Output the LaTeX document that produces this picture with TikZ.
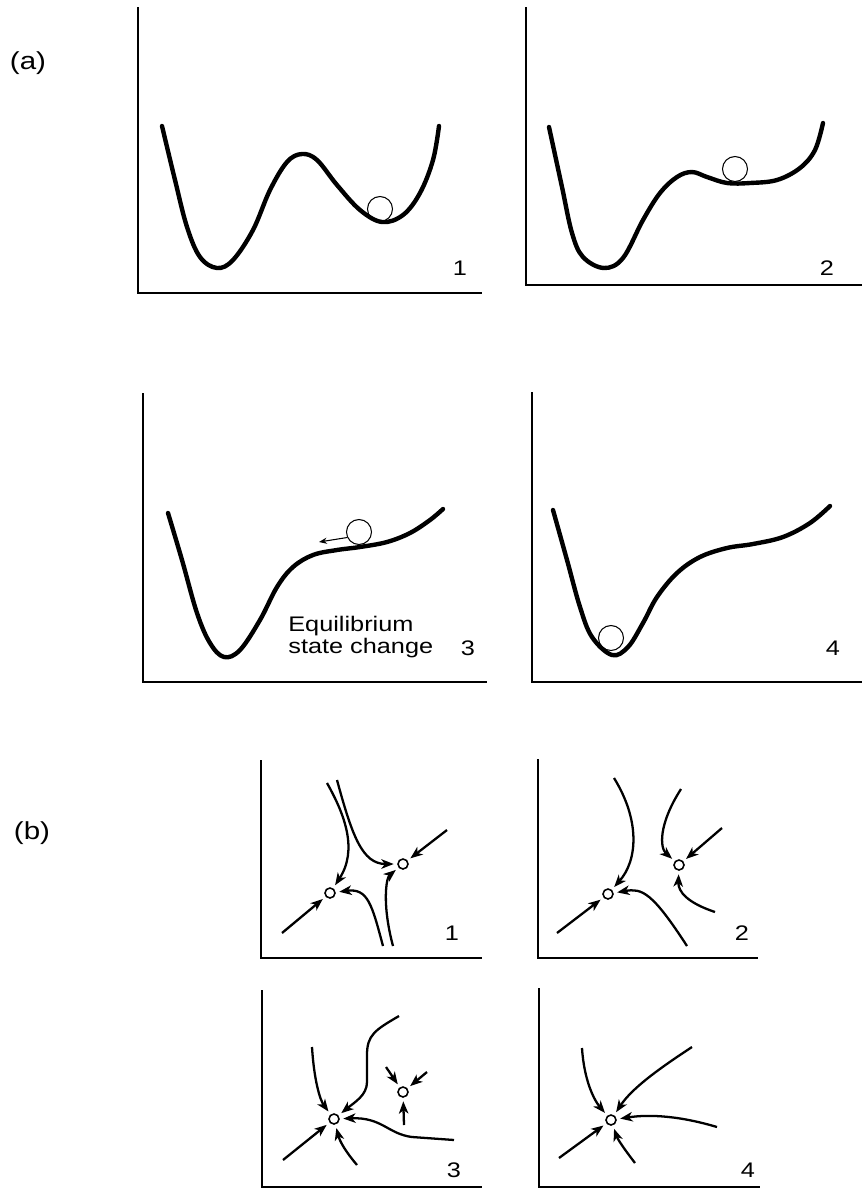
\documentclass[tikz,border=0pt]{standalone}
\usepackage{fontspec}
\setmainfont[FakeStretch=1.2]{Liberation Sans}
\usepackage{tikz}
\usetikzlibrary{arrows.meta}

\begin{document}
\begin{tikzpicture}[
x=0.02cm, y=-0.02cm,
font=\fontsize{12}{12}\selectfont,
axis/.style={line width=0.7pt},
well/.style={line width=2.5pt, line cap=round, line join=round},
ball/.style={circle, draw, line width=0.6pt, minimum size=0.5cm, inner sep=0pt},
fixpt/.style={circle, draw, line width=0.9pt, minimum size=0.2cm, inner sep=0pt},
flow/.style={-{Stealth[length=7pt,width=5.4pt,inset=2pt]}, line width=1.3pt, shorten >=2pt},
rollarr/.style={-{Stealth[length=4.5pt,width=3.5pt]}, line width=0.6pt},
tag/.style={inner sep=0pt},
part/.style={inner sep=0pt, font=\fontsize{14}{14}\selectfont}
]
\path (0,0) rectangle (862,1188);

% Part labels
\node[part] (la) at (28,63) {(a)};
\node[part] (lb) at (32,833) {(b)};

% (a) 1: two wells, ball in the upper one
\draw[axis] (138,7) -- (138,293) -- (482,293);
\draw[well] plot[smooth, tension=0.6] coordinates {(162,126) (175,180) (187,227) (200,257)
  (217,268) (233,260) (253,230) (270,190) (287,162) (302,154) (317,160) (337,185)
  (360,210) (382,222) (403,215) (420,193) (433,160) (439,126)};
\node[ball] (ball1) at (380,209) {};
\node[tag] (n1) at (460,268) {1};

% (a) 2
\draw[axis] (526,7) -- (526,285) -- (862,285);
\draw[well] plot[smooth, tension=0.6] coordinates {(549,127) (562,187) (572,233) (583,257)
  (604,268) (623,258) (643,220) (660,193) (677,177) (692,172) (707,177) (727,183)
  (750,183) (777,180) (800,168) (815,150) (823,123)};
\node[ball] (ball2) at (735,169) {};
\node[tag] (n2) at (827,268) {2};

% (a) 3
\draw[axis] (143,393) -- (143,682) -- (487,682);
\draw[well] plot[smooth, tension=0.6] coordinates {(168,513) (182,560) (197,613) (210,643)
  (224,657) (240,650) (260,620) (277,587) (293,567) (313,555) (337,550) (360,547)
  (387,542) (410,533) (430,520) (443,509)};
\node[ball] (ball3) at (359,532) {};
\coordinate (roll) at (319,542);
\draw[rollarr] (ball3.205) -- (roll);
\node[tag, align=left, anchor=west] (eqtxt) at (288,637) {Equilibrium\\state change};
\node[tag] (n3) at (468,648) {3};

% (a) 4
\draw[axis] (532,392) -- (532,682) -- (862,682);
\draw[well] plot[smooth, tension=0.6] coordinates {(553,510) (567,560) (580,607) (592,637)
  (612,655) (628,647) (643,623) (657,597) (677,573) (700,557) (727,548) (753,544)
  (783,537) (810,523) (830,506)};
\node[ball] (ball4) at (611,638) {};
\node[tag] (n4) at (833,648) {4};

% (b) 1
\draw[axis] (261,760) -- (261,958) -- (482,958);
\node[fixpt] (p1a) at (330,893) {};
\node[fixpt] (p1b) at (403,864) {};
\draw[flow] (327,783) .. controls (345,815) and (358,850) .. (p1a);
\draw[flow] (337,780) .. controls (352,835) and (362,864) .. (p1b);
\draw[flow] (447,830) -- (p1b);
\draw[flow] (282,933) -- (p1a);
\draw[flow] (383,946) .. controls (372,905) and (368,888) .. (p1a);
\draw[flow] (393,946) .. controls (382,905) and (386,878) .. (p1b);
\node[tag] (m1) at (452,933) {1};

% (b) 2
\draw[axis] (538,759) -- (538,958) -- (758,958);
\node[fixpt] (p2a) at (608,894) {};
\node[fixpt] (p2b) at (679,865) {};
\draw[flow] (614,778) .. controls (640,820) and (638,860) .. (p2a);
\draw[flow] (681,789) .. controls (658,825) and (660,848) .. (p2b);
\draw[flow] (722,828) -- (p2b);
\draw[flow] (557,933) -- (p2a);
\draw[flow] (687,946) .. controls (652,892) and (642,888) .. (p2a);
\draw[flow] (715,912) .. controls (688,903) and (678,892) .. (p2b);
\node[tag] (m2) at (742,933) {2};

% (b) 3
\draw[axis] (262,990) -- (262,1187) -- (482,1187);
\node[fixpt] (p3a) at (334,1119) {};
\node[fixpt] (p3b) at (403,1092) {};
\draw[flow] (312,1047) .. controls (314,1080) and (320,1100) .. (p3a);
\draw[flow] (399,1016) .. controls (375,1030) and (367,1035) .. (367,1055)
  -- (367,1082) .. controls (367,1095) and (355,1102) .. (p3a);
\draw[flow] (454,1140) -- (412,1137) .. controls (388,1134) and (382,1117) .. (p3a);
\draw[flow] (283,1160) -- (p3a);
\draw[flow] (357,1165) .. controls (346,1152) and (340,1142) .. (p3a);
\draw[flow] (386,1067) -- (p3b);
\draw[flow] (427,1072) -- (p3b);
\draw[flow] (404,1125) -- (p3b);
\node[tag] (m3) at (454,1170) {3};

% (b) 4
\draw[axis] (539,988) -- (539,1187) -- (760,1187);
\node[fixpt] (p4) at (611,1120) {};
\draw[flow] (582,1048) .. controls (584,1080) and (594,1100) .. (p4);
\draw[flow] (692,1047) .. controls (660,1068) and (632,1088) .. (p4);
\draw[flow] (717,1127) .. controls (680,1116) and (650,1114) .. (p4);
\draw[flow] (559,1158) -- (p4);
\draw[flow] (635,1163) .. controls (625,1150) and (618,1140) .. (p4);
\node[tag] (m4) at (748,1170) {4};

\end{tikzpicture}
\end{document}
